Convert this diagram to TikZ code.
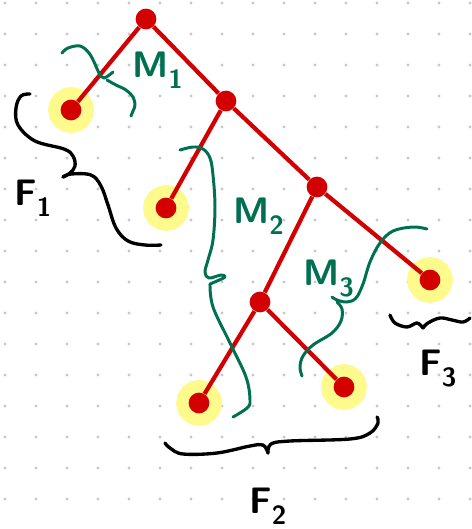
\documentclass[tikz,border=0pt]{standalone}
\usetikzlibrary{positioning}
\definecolor{treeRed}{RGB}{210, 0, 0}
\definecolor{haloYellow}{RGB}{255, 250, 140}
\definecolor{braceGreen}{RGB}{0, 112, 80}
\definecolor{gridGray}{RGB}{200, 200, 200}
\newcommand{\subLabel}[2]{#1\raisebox{-0.3em}{\fontsize{15}{16}\selectfont #2}}
\tikzset{
  treeNode/.style={
    circle,
    fill=treeRed,
    minimum size=11.8pt,
    inner sep=0pt
  },
  treeLeaf/.style={
    treeNode,
    preaction={draw=haloYellow, line width=14.2pt}
  },
  treeEdge/.style={
    draw=treeRed,
    line width=2.4pt
  },
  greenBrace/.style={
    draw=braceGreen,
    line width=1.7pt,
    line cap=round,
    line join=round
  },
  blackBrace/.style={
    draw=black,
    line width=1.9pt,
    line cap=round,
    line join=round
  },
  mLabel/.style={
    font=\sffamily\bfseries\fontsize{21}{24}\selectfont,
    text=braceGreen,
    anchor=base west,
    inner sep=0pt
  },
  fLabel/.style={
    mLabel,
    text=black
  }
}

\begin{document}
\begin{tikzpicture}[x=0.02cm, y=-0.02cm]
  \useasboundingbox (0,0) rectangle (472,529);
  % dotted paper
  \foreach \i in {0,...,15}
    \foreach \j in {0,...,16}
      \fill[gridGray] (5+31*\i, 3+31*\j) circle (0.9pt);

  % tree
  \node[treeNode] (root) at (146,19) {};
  \node[treeLeaf] (leaf1) at (71,110) {};
  \node[treeNode] (inner1) at (226,101) {};
  \node[treeLeaf] (leaf2) at (166,208) {};
  \node[treeNode] (inner2) at (317,187) {};
  \node[treeNode] (inner3) at (260,302) {};
  \node[treeLeaf] (leaf3) at (430,280) {};
  \node[treeLeaf] (leaf4) at (199,403) {};
  \node[treeLeaf] (leaf5) at (344,387) {};
  \draw[treeEdge] (root) -- (leaf1);
  \draw[treeEdge] (root) -- (inner1);
  \draw[treeEdge] (inner1) -- (leaf2);
  \draw[treeEdge] (inner1) -- (inner2);
  \draw[treeEdge] (inner2) -- (inner3);
  \draw[treeEdge] (inner2) -- (leaf3);
  \draw[treeEdge] (inner3) -- (leaf4);
  \draw[treeEdge] (inner3) -- (leaf5);

  % green braces
  \draw[greenBrace] plot[smooth, tension=0.6] coordinates {(62,53) (68,48) (80,46) (89,53) (95,64) (99,73) (104,78) (113,72)};
  \draw[greenBrace] plot[smooth, tension=0.6] coordinates {(107,80) (116,85) (126,90) (133,97) (135,105) (133,111) (131,116)};
  \draw[greenBrace] plot[smooth, tension=0.6] coordinates {(180,150) (193,147) (203,149) (210,158) (213,175) (215,207) (213,240) (208,260) (205,272) (209,278) (221,275) (225,277) (217,281) (210,284)};
  \draw[greenBrace] plot[smooth, tension=0.6] coordinates {(210,284) (213,307) (230,343) (246,377) (250,400) (247,408) (233,417)};
  \draw[greenBrace] plot[smooth, tension=0.6] coordinates {(427,229) (413,227) (393,231) (380,243) (370,262) (363,284) (356,298) (347,302) (337,300) (332,297)};
  \draw[greenBrace] plot[smooth, tension=0.6] coordinates {(337,302) (342,309) (341,321) (332,333) (313,345) (303,356) (300,367) (302,376)};

  % black braces
  \draw[blackBrace] plot[smooth, tension=0.6] coordinates {(30,94) (21,96) (16,108) (18,125) (35,141) (64,149) (73,156) (75,166) (70,173) (63,177)};
  \draw[blackBrace] plot[smooth, tension=0.6] coordinates {(63,177) (71,174) (91,175) (101,186) (108,205) (116,228) (128,241) (145,245) (161,245)};
  \draw[blackBrace] plot[smooth, tension=0.6] coordinates {(165,443) (170,448) (183,454) (217,453) (250,446) (263,445) (268,453)};
  \draw[blackBrace] plot[smooth, tension=0.6] coordinates {(268,453) (271,444) (290,441) (350,439) (370,433) (378,423) (377,417)};
  \draw[blackBrace] plot[smooth, tension=0.6] coordinates {(390,315) (395,323) (407,327) (417,323) (423,328)};
  \draw[blackBrace] plot[smooth, tension=0.6] coordinates {(423,328) (428,323) (440,318) (452,320) (463,322) (470,318)};

  % labels
  \node[mLabel] (m1) at (132,77) {\subLabel{M}{1}};
  \node[mLabel] (m2) at (233,223) {\subLabel{M}{2}};
  \node[mLabel] (m3) at (303,285) {\subLabel{M}{3}};
  \node[fLabel] (f1) at (14,205) {\subLabel{F}{1}};
  \node[fLabel] (f2) at (249,513) {\subLabel{F}{2}};
  \node[fLabel] (f3) at (419,375) {\subLabel{F}{3}};
\end{tikzpicture}
\end{document}
